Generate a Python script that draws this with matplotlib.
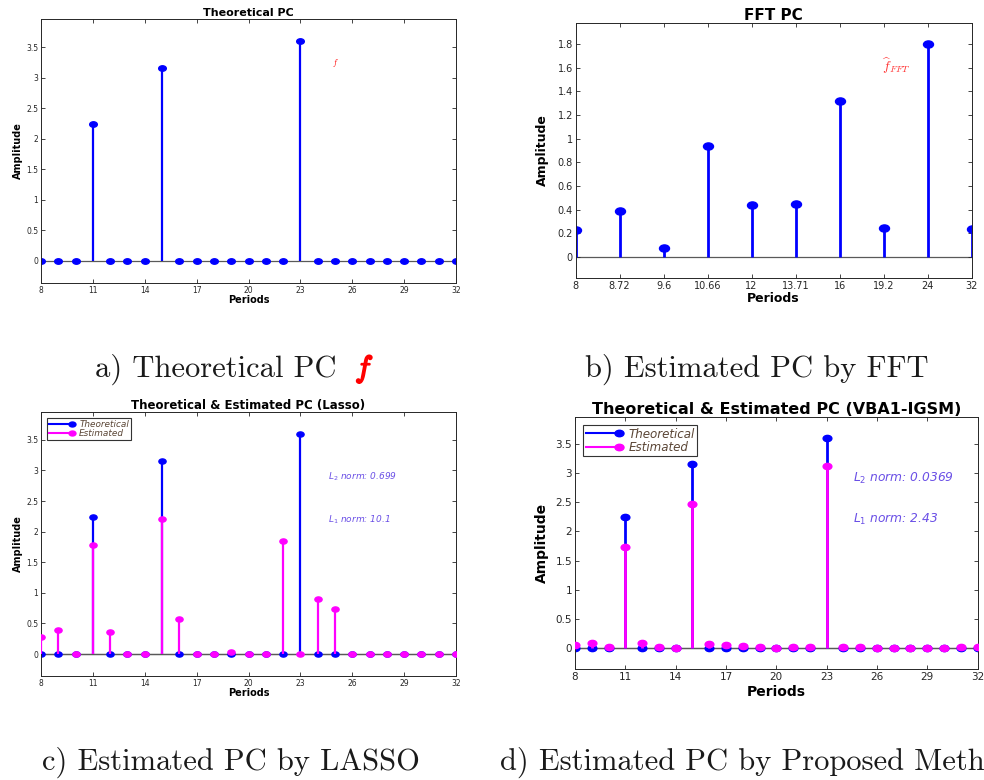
import numpy as np
import matplotlib
matplotlib.use('Agg')
import matplotlib.pyplot as plt
import matplotlib.patheffects as pe
from matplotlib.lines import Line2D
from matplotlib.path import Path
from matplotlib.transforms import Affine2D
from matplotlib.legend_handler import HandlerLine2D

# data
periods = [8, 9, 10, 11, 12, 13, 14, 15, 16, 17, 18, 19, 20, 21, 22, 23, 24, 25, 26, 27, 28, 29, 30, 31, 32]
theoretical = [0, 0, 0, 2.24, 0, 0, 0, 3.16, 0, 0, 0, 0, 0, 0, 0, 3.6, 0, 0, 0, 0, 0, 0, 0, 0, 0]
lasso_est = [0.27, 0.39, 0, 1.79, 0.36, 0, 0, 2.2, 0.57, 0, 0, 0.03, 0, 0, 1.85, 0, 0.9, 0.74, 0, 0, 0, 0, 0, 0, 0]
vba_est = [0.057, 0.085, 0.017, 1.73, 0.085, 0.017, 0.006, 2.46, 0.068, 0.057, 0.04, 0.017, 0.006,
           0.017, 0.03, 3.11, 0.017, 0.017, 0.005, 0.005, 0.005, 0.005, 0.005, 0.017, 0.017]

fft_periods = ['8', '8.72', '9.6', '10.66', '12', '13.71', '16', '19.2', '24', '32']
fft_amp = [0.23, 0.39, 0.08, 0.94, 0.44, 0.45, 1.32, 0.245, 1.8, 0.24]

period_ticks = [8, 11, 14, 17, 20, 23, 26, 29, 32]
amp_ticks = [0, 0.5, 1, 1.5, 2, 2.5, 3, 3.5]
fft_amp_ticks = [0, 0.2, 0.4, 0.6, 0.8, 1, 1.2, 1.4, 1.6, 1.8]

plt.rcParams['font.family'] = 'DejaVu Sans'

BLUE = '#0000ff'
MAGENTA = '#ff00ff'
NORM_COL = '#6a4fe6'
LEG_COL = '#5b4636'

# MATLAB markers come out a bit squashed in the picture
ell = Path.unit_circle().transformed(Affine2D().scale(1.4, 1.0))


class EndMarker(HandlerLine2D):
    # legend line with the marker on its right end, like MATLAB
    def create_artists(self, *args, **kw):
        arts = super().create_artists(*args, **kw)
        for a in arts:
            a.set_markevery([len(a.get_xdata()) - 1])
        return arts


def style_axes(ax, tick_fs):
    ax.tick_params(direction='in', top=True, right=True, length=3, width=0.6,
                   labelsize=tick_fs, colors='0.15', pad=2)
    for s in ax.spines.values():
        s.set_color('0.15')
        s.set_linewidth(0.7)


def stem(ax, x, y, color, ms, lw, z=2):
    markerline, stemlines, baseline = ax.stem(x, y, linefmt='-', markerfmt='o', basefmt='-')
    plt.setp(stemlines, color=color, linewidth=lw, zorder=z)
    plt.setp(markerline, color=color, marker=ell, markersize=ms,
             markeredgecolor=color, zorder=z + 0.5)
    plt.setp(baseline, color='0.35', linewidth=0.9, zorder=1)


def labels(ax, title, title_fs, lab_fs, xpad=0, ypad=2):
    ax.set_title(title, fontsize=title_fs, fontweight='bold', pad=2)
    ax.set_xlabel('Periods', fontsize=lab_fs, fontweight='bold', labelpad=xpad)
    ax.set_ylabel('Amplitude', fontsize=lab_fs, fontweight='bold', labelpad=ypad)


def legend(ax, fs, ms, hl):
    h = [Line2D([], [], color=BLUE, lw=1.5, marker=ell, ms=ms),
         Line2D([], [], color=MAGENTA, lw=1.5, marker=ell, ms=ms)]
    lg = ax.legend(h, ['Theoretical', 'Estimated'], loc='upper left',
                   handler_map={Line2D: EndMarker()}, numpoints=1,
                   prop=dict(style='italic', size=fs), labelcolor=LEG_COL,
                   fancybox=False, edgecolor='0.2', framealpha=1,
                   borderpad=0.2, handlelength=hl, handletextpad=0.8,
                   borderaxespad=0.7, labelspacing=0.05)
    lg.get_frame().set_linewidth(0.8)


fig = plt.figure(figsize=(9.84, 7.8), dpi=100)

amp_max = max(theoretical)

# a) theoretical
ax = fig.add_axes([0.0417, 0.6372, 0.4217, 0.3385])
stem(ax, periods, theoretical, BLUE, 5.5, 1.6)
ax.set_xlim(periods[0], periods[-1])
ax.set_ylim(-0.1 * amp_max, 1.1 * amp_max)
ax.set_xticks(period_ticks)
ax.set_yticks(amp_ticks, [f'{v:g}' for v in amp_ticks])
style_axes(ax, 5.5)
labels(ax, 'Theoretical PC', 8, 7)
ax.text(25, 3.24, r'$f$', color='red', fontsize=6, math_fontfamily='cm',
        ha='center', va='center')

# b) FFT
ax = fig.add_axes([0.585, 0.6432, 0.4024, 0.3277])
pos = np.arange(len(fft_amp))
stem(ax, pos, fft_amp, BLUE, 7.2, 2.0)
ax.set_xlim(pos[0], pos[-1])
ax.set_ylim(-0.1 * max(fft_amp), 1.1 * max(fft_amp))
ax.set_xticks(pos, fft_periods)
ax.set_yticks(fft_amp_ticks, [f'{v:g}' for v in fft_amp_ticks])
style_axes(ax, 7)
labels(ax, 'FFT PC', 11, 9, xpad=1, ypad=6)
ax.text(7.3, 1.61, r'$\widehat{f}_{FFT}$', color='#ff3030', fontsize=10,
        math_fontfamily='cm', ha='center', va='center')

# c) LASSO
ax = fig.add_axes([0.0417, 0.1333, 0.4217, 0.3388])
stem(ax, periods, theoretical, BLUE, 5.2, 1.6, z=2)
stem(ax, periods, lasso_est, MAGENTA, 5.2, 1.6, z=3)
ax.set_xlim(periods[0], periods[-1])
ax.set_ylim(-0.1 * amp_max, 1.1 * amp_max)
ax.set_xticks(period_ticks)
ax.set_yticks(amp_ticks, [f'{v:g}' for v in amp_ticks])
style_axes(ax, 5.5)
labels(ax, 'Theoretical & Estimated PC (Lasso)', 8.5, 7)
legend(ax, 6.4, 5, 2.6)
ax.text(24.6, 2.9, r'$L_2$ norm: 0.699', color=NORM_COL, style='italic', fontsize=6.5, va='center')
ax.text(24.6, 2.19, r'$L_1$ norm: 10.1', color=NORM_COL, style='italic', fontsize=6.5, va='center')

# d) proposed method
ax = fig.add_axes([0.5843, 0.1419, 0.4092, 0.3238])
stem(ax, periods, theoretical, BLUE, 6.3, 2.0, z=2)
stem(ax, periods, vba_est, MAGENTA, 6.3, 2.0, z=3)
ax.set_xlim(periods[0], periods[-1])
ax.set_ylim(-0.1 * amp_max, 1.1 * amp_max)
ax.set_xticks(period_ticks)
ax.set_yticks(amp_ticks, [f'{v:g}' for v in amp_ticks])
style_axes(ax, 7.5)
labels(ax, 'Theoretical & Estimated PC (VBA1-IGSM)', 11.5, 10, xpad=2, ypad=5)
legend(ax, 8.6, 6.5, 2.8)
ax.text(24.6, 2.91, r'$L_2$ norm: 0.0369', color=NORM_COL, style='italic', fontsize=8.8, va='center')
ax.text(24.6, 2.2, r'$L_1$ norm: 2.43', color=NORM_COL, style='italic', fontsize=8.8, va='center')

# captions under each panel (the last one runs past the right edge, as in the source figure)
cap = dict(family='cmr10', fontsize=22, va='baseline', color='0.1')
fig.text(95 / 984, 1 - 377 / 780, 'a) Theoretical PC', **cap)
fig.text(355 / 984, 1 - 377 / 780, r'$f$', math_fontfamily='cm', fontsize=22, va='baseline',
         color='red', path_effects=[pe.withStroke(linewidth=1.2, foreground='red')])
fig.text(585 / 984, 1 - 377 / 780, 'b) Estimated PC by FFT', **cap)
fig.text(42 / 984, 1 - 770 / 780, 'c) Estimated PC by LASSO', **cap)
fig.text(500 / 984, 1 - 770 / 780, 'd) Estimated PC by Proposed Method', **cap)

fig.savefig('out.png', dpi=100)
